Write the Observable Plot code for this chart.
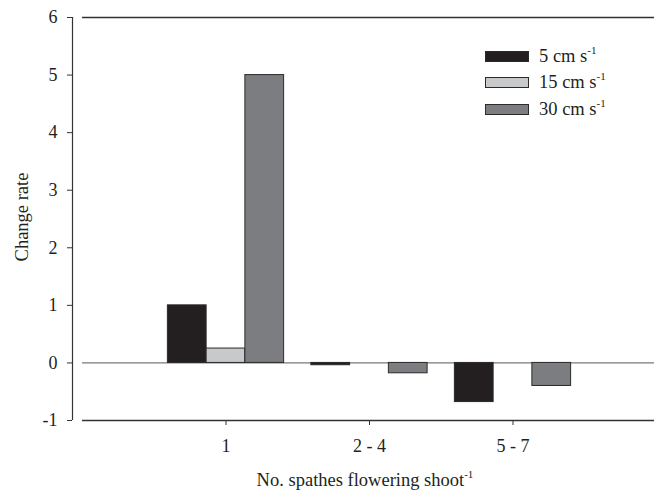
<!DOCTYPE html>
<html>
<head>
<meta charset="utf-8">
<script src="https://cdn.jsdelivr.net/npm/d3@7"></script>
<script src="https://cdn.jsdelivr.net/npm/@observablehq/plot@0.6"></script>
<style>
  html, body { margin: 0; padding: 0; background: #fff; overflow: hidden; }
  #wrap { position: relative; width: 654px; height: 493px; font-family: "Liberation Serif", "DejaVu Serif", serif; color: #231f20; }
  #legend { position: absolute; left: 485px; top: 43px; font-size: 18.5px; }
  .row { display: flex; align-items: center; height: 26.5px; }
  .sw { width: 42px; height: 9px; border: 1px solid #2a2a2a; margin-right: 10px; }
  sup { font-size: 11px; vertical-align: 0; position: relative; top: -8px; }
  #xtitle { position: absolute; left: 0; top: 469px; width: 730px; text-align: center; font-size: 18.5px; line-height: 22px; }
  svg text { font-family: "Liberation Serif", "DejaVu Serif", serif; }
</style>
</head>
<body>
<div id="wrap"><div id="chart"></div><div id="legend"></div><div id="xtitle">No. spathes flowering shoot<sup>-1</sup></div></div>
<script>
const categories = ["1", "2 - 4", "5 - 7"];
const series = ["5 cm s", "15 cm s", "30 cm s"];
const v5 = [1.0, -0.04, -0.68];
const v15 = [0.25, 0, 0];
const v30 = [5.0, -0.18, -0.40];
const colors = ["#231f20", "#c8c9cb", "#7c7d80"];
const yTicks = [-1, 0, 1, 2, 3, 4, 5, 6];

const values = [v5, v15, v30];
const rows = [];
categories.forEach((c, gi) => {
  values.forEach((vals, si) => rows.push({gi, si, series: series[si], value: vals[gi]}));
});
const bw = 0.27;

const plot = Plot.plot({
  width: 654,
  height: 466,
  marginLeft: 82,
  marginRight: 0,
  marginTop: 17,
  marginBottom: 46,
  style: {fontFamily: "Liberation Serif, DejaVu Serif, serif", fontSize: "18px", color: "#231f20", background: "#fff"},
  x: {domain: [0, 4], range: [82, 656]},
  y: {domain: [-1, 6]},
  color: {domain: series, range: colors},
  marks: [
    Plot.ruleY([6, -1], {x1: 0, x2: 4, stroke: "#333", strokeWidth: 1.3}),
    Plot.ruleY([0], {x1: 0, x2: 4, stroke: "#7a7a7a", strokeWidth: 1.3}),
    Plot.rectY(rows.filter(d => d.value !== 0), {
      x1: d => d.gi + 1 + (d.si - 1.5) * bw,
      x2: d => d.gi + 1 + (d.si - 0.5) * bw,
      y1: 0,
      y2: "value",
      fill: "series",
      stroke: "#2a2a2a",
      strokeWidth: 1
    }),
    Plot.ruleX([0], {y1: -1, y2: 6, dx: -10, stroke: "#333", strokeWidth: 1.2}),
    Plot.axisY({ticks: yTicks, tickSize: 5, tickPadding: 10, dx: -10, label: null, fontSize: 18, tickFormat: d => String(d), stroke: "#333"}),
    Plot.axisX({ticks: [1, 2, 3], tickSize: 5, tickPadding: 14, label: null, fontSize: 18, tickFormat: d => categories[d - 1], stroke: "#333"}),
    Plot.text(["Change rate"], {frameAnchor: "left", textAnchor: "middle", rotate: -90, dx: -60, dy: -2, fontSize: 18.5, fill: "#231f20"})
  ]
});
document.getElementById("chart").appendChild(plot);

const legend = document.getElementById("legend");
series.forEach((s, i) => {
  const row = document.createElement("div");
  row.className = "row";
  row.innerHTML = `<div class="sw" style="background:${colors[i]}"></div><span>${s}<sup>-1</sup></span>`;
  legend.appendChild(row);
});
</script>
</body>
</html>
